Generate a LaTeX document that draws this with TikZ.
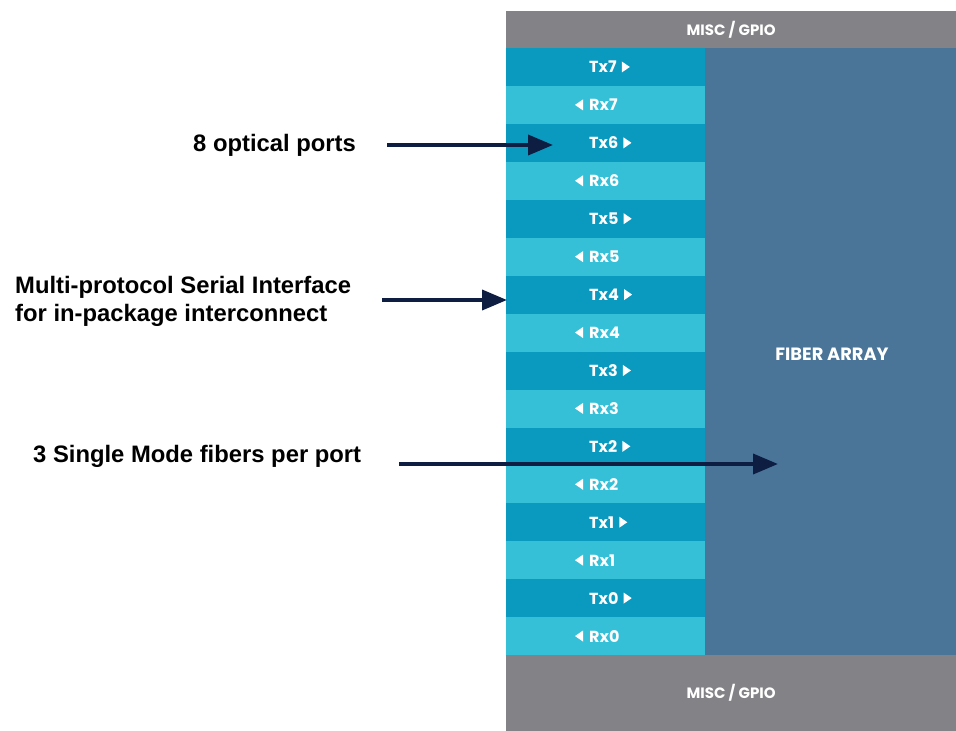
\documentclass[tikz,border=0pt]{standalone}
\usepackage{fontspec}
\setmainfont{Liberation Sans}
\newfontfamily\chipfont{Poppins}
\usetikzlibrary{arrows.meta,calc}
\definecolor{miscgray}{HTML}{828287}
\definecolor{txcol}{HTML}{0A9AC0}
\definecolor{rxcol}{HTML}{36C0D8}
\definecolor{fibercol}{HTML}{4A7598}
\definecolor{arrcol}{HTML}{0D1E42}
\tikzset{
  blk/.style={draw=none, inner sep=0pt, anchor=north west},
  chiplbl/.style={text=white, font=\chipfont\bfseries\fontsize{15}{17}\selectfont, inner sep=0pt},
  portlbl/.style={text=white, font=\chipfont\bfseries\fontsize{16}{18}\selectfont, inner sep=0pt},
  note/.style={text=black, font=\bfseries\fontsize{23.8}{28}\selectfont, inner sep=0pt, align=left},
  callout/.style={draw=arrcol, line width=3.8pt, -{Triangle[length=25pt,width=20pt]}},
}
\begin{document}
\begin{tikzpicture}[x=1pt,y=-1pt]
\useasboundingbox (0,0) rectangle (956,731);
\fill[white] (0,0) rectangle (956,731);
% blocks
\node[blk, fill=miscgray, minimum width=450pt, minimum height=37pt] (top) at (506,11) {};
\node[blk, fill=miscgray, minimum width=450pt, minimum height=76pt] (bot) at (506,655) {};
\node[blk, fill=fibercol, minimum width=251pt, minimum height=607pt] (fiber) at (705,48) {};
\node[chiplbl] (toplbl) at (top.center) {MISC / GPIO};
\node[chiplbl] (botlbl) at (bot.center) {MISC / GPIO};
\node[chiplbl, font=\chipfont\bfseries\fontsize{17.8}{20}\selectfont] (fiberlbl) at (832,354) {FIBER ARRAY};
% strips
\foreach \i in {0,...,15} {
  \pgfmathsetmacro\yt{48+\i*37.9375}
  \pgfmathsetmacro\yc{\yt+18.97}
  \pgfmathtruncatemacro\n{7-floor(\i/2)}
  \ifodd\i
    \node[blk, fill=rxcol, minimum width=199pt, minimum height=37.94pt] (s\i) at (506,\yt) {};
    \node[portlbl, anchor=west] (l\i) at (589,\yc) {Rx\n};
    \fill[white] ($(l\i.west)+(-14,0)$) -- ++(8,-5.5) -- ++(0,11) -- cycle;
  \else
    \node[blk, fill=txcol, minimum width=199pt, minimum height=37.94pt] (s\i) at (506,\yt) {};
    \node[portlbl, anchor=west] (l\i) at (589,\yc) {Tx\n};
    \fill[white] ($(l\i.east)+(5,-5.5)$) -- ++(8,5.5) -- ++(-8,5.5) -- cycle;
  \fi
}
% notes
\node[note, anchor=west] (n1) at (193,145) {8 optical ports};
\node[note, anchor=west] (n2) at (15,301) {Multi-protocol Serial Interface\\for in-package interconnect};
\node[note, anchor=west] (n3) at (33,456) {3 Single Mode fibers per port};
% arrows
\coordinate (a1s) at (387,145); \coordinate (a1e) at (553,145);
\coordinate (a2s) at (382,300); \coordinate (a2e) at (507,300);
\coordinate (a3s) at (399,464); \coordinate (a3e) at (778,464);
\draw[callout] (a1s) -- (a1e);
\draw[callout] (a2s) -- (a2e);
\draw[callout] (a3s) -- (a3e);
\end{tikzpicture}
\end{document}
